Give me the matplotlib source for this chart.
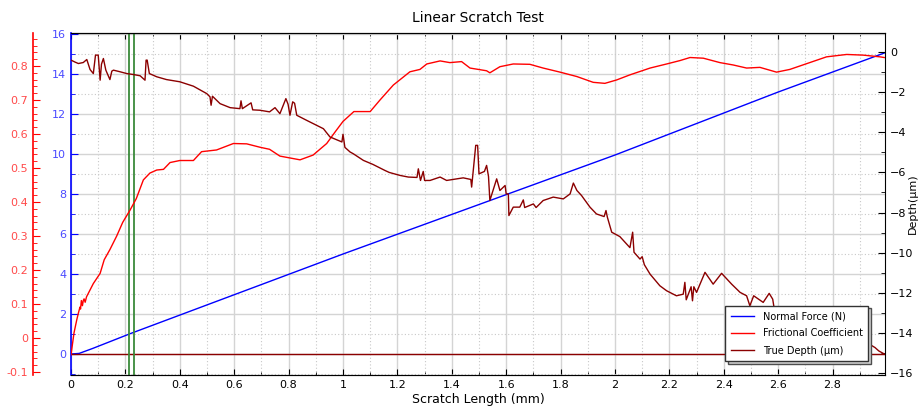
import matplotlib
matplotlib.use('Agg')
import matplotlib.pyplot as plt
from matplotlib.ticker import MultipleLocator, FuncFormatter

#  Data ########################################################################

# Normal force (N), left inner axis
force_x = [0.0, 0.03, 0.08, 0.22, 1.0, 2.0, 2.6, 3.0]
force_y = [0.0, 0.03, 0.28, 1.03, 5.0, 9.95, 13.1, 15.1]

# Frictional coefficient, left outer axis
fric_x = [0.000, 0.005, 0.011, 0.021, 0.027, 0.033, 0.035, 0.038, 0.042, 0.045,
          0.048, 0.052, 0.057, 0.082, 0.107, 0.122, 0.143, 0.168, 0.190, 0.217,
          0.240, 0.266, 0.290, 0.315, 0.340, 0.364, 0.400, 0.450, 0.480, 0.535,
          0.597, 0.646, 0.695, 0.730, 0.768, 0.842, 0.890, 0.940, 0.970, 1.000,
          1.040, 1.100, 1.136, 1.185, 1.246, 1.283, 1.308, 1.357, 1.393, 1.436,
          1.467, 1.528, 1.540, 1.577, 1.626, 1.687, 1.736, 1.798, 1.860, 1.920,
          1.963, 2.006, 2.055, 2.129, 2.190, 2.239, 2.276, 2.325, 2.386, 2.435,
          2.484, 2.533, 2.594, 2.643, 2.705, 2.778, 2.852, 2.913, 2.974, 2.990]
fric_y = [-0.050, -0.020, 0.015, 0.053, 0.073, 0.091, 0.085, 0.110, 0.095, 0.110,
          0.115, 0.105, 0.121, 0.160, 0.190, 0.230, 0.260, 0.300, 0.340, 0.376,
          0.410, 0.465, 0.485, 0.494, 0.496, 0.516, 0.522, 0.522, 0.548, 0.553,
          0.572, 0.571, 0.561, 0.555, 0.535, 0.524, 0.538, 0.572, 0.605, 0.637,
          0.666, 0.666, 0.700, 0.744, 0.783, 0.790, 0.806, 0.815, 0.810, 0.813,
          0.794, 0.786, 0.780, 0.798, 0.806, 0.805, 0.794, 0.782, 0.769, 0.752,
          0.749, 0.759, 0.774, 0.794, 0.806, 0.816, 0.825, 0.823, 0.810, 0.803,
          0.794, 0.796, 0.782, 0.790, 0.807, 0.827, 0.834, 0.832, 0.827, 0.825]

# True depth (um), right axis
depth_x = [0.000, 0.015, 0.027, 0.045, 0.058, 0.070, 0.082, 0.090, 0.100, 0.107,
           0.112, 0.119, 0.128, 0.143, 0.150, 0.156, 0.180, 0.205, 0.230, 0.254,
           0.272, 0.276, 0.280, 0.288, 0.315, 0.351, 0.400, 0.450, 0.499, 0.511,
           0.515, 0.520, 0.548, 0.585, 0.621, 0.625, 0.630, 0.662, 0.668, 0.695,
           0.730, 0.750, 0.768, 0.790, 0.798, 0.805, 0.815, 0.822, 0.830, 0.866,
           0.903, 0.928, 0.952, 0.996, 1.000, 1.007, 1.026, 1.038, 1.075, 1.110,
           1.154, 1.170, 1.210, 1.240, 1.272, 1.277, 1.285, 1.295, 1.300, 1.320,
           1.357, 1.381, 1.442, 1.470, 1.473, 1.488, 1.495, 1.500, 1.520, 1.528,
           1.535, 1.540, 1.565, 1.577, 1.596, 1.600, 1.608, 1.610, 1.626, 1.650,
           1.663, 1.668, 1.700, 1.710, 1.736, 1.773, 1.810, 1.835, 1.847, 1.860,
           1.877, 1.908, 1.932, 1.960, 1.967, 1.972, 1.988, 2.018, 2.055, 2.065,
           2.070, 2.092, 2.100, 2.108, 2.129, 2.165, 2.190, 2.226, 2.251, 2.257,
           2.262, 2.280, 2.285, 2.290, 2.300, 2.331, 2.361, 2.392, 2.429, 2.460,
           2.484, 2.496, 2.510, 2.545, 2.567, 2.580, 2.585, 2.650, 2.750, 2.880,
           2.940, 2.956, 2.970, 2.990]
depth_y = [-0.40, -0.50, -0.57, -0.52, -0.37, -0.87, -1.07, -0.15, -0.15, -1.40,
           -0.60, -0.32, -0.90, -1.37, -0.95, -0.90, -0.98, -1.07, -1.12, -1.18,
           -1.40, -0.40, -0.40, -1.07, -1.23, -1.37, -1.48, -1.70, -2.07, -2.23,
           -2.65, -2.20, -2.57, -2.77, -2.82, -2.43, -2.82, -2.53, -2.88, -2.90,
           -2.98, -2.77, -3.07, -2.32, -2.60, -3.15, -2.48, -2.55, -3.15, -3.40,
           -3.65, -3.82, -4.23, -4.48, -4.10, -4.75, -4.98, -5.07, -5.40, -5.60,
           -5.90, -6.00, -6.15, -6.23, -6.25, -5.82, -6.40, -5.95, -6.40, -6.40,
           -6.23, -6.40, -6.27, -6.35, -6.73, -4.65, -4.65, -6.07, -5.95, -5.65,
           -6.20, -7.40, -6.32, -6.90, -6.65, -7.07, -7.07, -8.15, -7.73, -7.73,
           -7.37, -7.75, -7.57, -7.75, -7.40, -7.23, -7.32, -7.07, -6.53, -6.90,
           -7.15, -7.73, -8.07, -8.20, -7.90, -8.23, -8.98, -9.20, -9.75, -8.98,
           -9.98, -10.32, -10.20, -10.60, -11.07, -11.65, -11.90, -12.15, -12.07, -11.48,
           -12.35, -11.70, -12.40, -11.70, -11.98, -10.98, -11.57, -11.03, -11.57, -11.98,
           -12.15, -12.65, -12.15, -12.48, -12.03, -12.32, -12.75, -13.20, -13.80, -14.40,
           -14.60, -14.73, -14.90, -15.05]

# Marker lines (green) and baseline
marker_x = [0.214, 0.232]
baseline = 0.0

#  Figure ######################################################################

fig = plt.figure(figsize=(9.2, 4.12), dpi=100)
ax = fig.add_axes([0.0772, 0.0898, 0.8848, 0.830])
axr = ax.twinx()   # frictional coefficient (outer left)
axd = ax.twinx()   # depth (right)

fs = 8

# main axis: normal force
ax.set_xlim(0, 2.993)
ax.set_ylim(-1.05, 16.05)
ax.xaxis.set_major_locator(MultipleLocator(0.2))
ax.xaxis.set_minor_locator(MultipleLocator(0.1))
ax.yaxis.set_major_locator(MultipleLocator(2))
ax.yaxis.set_minor_locator(MultipleLocator(1))
ax.xaxis.set_major_formatter(FuncFormatter(lambda v, p: '%g' % round(v, 2)))
ax.grid(which='major', color='#d4d4d4', linewidth=1.0)
ax.grid(which='minor', color='#c8c8c8', linewidth=0.8, linestyle=(0, (1, 2)))
ax.set_axisbelow(True)
ax.tick_params(axis='x', which='both', direction='in', top=True, labelsize=fs,
               colors='black')
ax.tick_params(axis='x', which='major', length=4)
ax.tick_params(axis='x', which='minor', length=2)
ax.tick_params(axis='y', which='both', direction='in', colors='#0000ff',
               labelcolor='#4a4aff', labelsize=fs)
ax.tick_params(axis='y', which='major', length=5)
ax.tick_params(axis='y', which='minor', length=3)
ax.spines['left'].set_color('#0000ff')
ax.spines['left'].set_linewidth(1.2)
ax.spines['bottom'].set_color('#555555')
ax.spines['right'].set_visible(False)
ax.set_xlabel('Scratch Length (mm)', fontsize=9, labelpad=2)
ax.set_title('Linear Scratch Test', fontsize=10, pad=8)

l1, = ax.plot(force_x, force_y, color='#0000ff', linewidth=1.0,
              label='Normal Force (N)')
ax.axhline(baseline, color='#8b0000', linewidth=1.0)
for mx in marker_x:
    ax.axvline(mx, color='#3a8a3a', linewidth=1.3)

# outer left axis: frictional coefficient
axr.set_ylim(-0.109, 0.897)
axr.spines['left'].set_position(('axes', -0.0467))
axr.spines['left'].set_visible(True)
axr.spines['left'].set_color('#ff0000')
axr.spines['left'].set_linewidth(1.2)
axr.spines['right'].set_visible(False)
axr.spines['top'].set_visible(False)
axr.spines['bottom'].set_visible(False)
axr.yaxis.set_ticks_position('left')
axr.yaxis.set_label_position('left')
axr.yaxis.set_major_locator(MultipleLocator(0.1))
axr.yaxis.set_minor_locator(MultipleLocator(0.02))
axr.yaxis.set_major_formatter(FuncFormatter(lambda v, p: '%g' % round(v, 2)))
axr.tick_params(axis='y', which='both', direction='in', colors='#ff0000',
                labelcolor='#ff4a4a', labelsize=fs)
axr.tick_params(axis='y', which='major', length=5)
axr.tick_params(axis='y', which='minor', length=3)
l2, = axr.plot(fric_x, fric_y, color='#ff0000', linewidth=1.0,
               label='Frictional Coefficient')

# right axis: depth
axd.set_ylim(-16.1, 0.95)
axd.yaxis.set_major_locator(MultipleLocator(2))
axd.yaxis.set_minor_locator(MultipleLocator(1))
axd.tick_params(axis='y', which='both', direction='in', colors='black',
                labelsize=fs)
axd.tick_params(axis='y', which='major', length=5)
axd.tick_params(axis='y', which='minor', length=3)
axd.spines['left'].set_visible(False)
axd.set_ylabel('Depth(\u00b5m)', fontsize=8)
axd.yaxis.set_label_coords(1.0275, 0.5)
l3, = axd.plot(depth_x, depth_y, color='#8b0000', linewidth=1.0,
               label='True Depth (\u00b5m)')

leg = axd.legend(handles=[l1, l2, l3], loc='lower right',
                 bbox_to_anchor=(0.979, 0.041), borderaxespad=0,
                 fontsize=7, fancybox=False,
                 shadow={'facecolor': '#d0d0d0', 'alpha': 1}, framealpha=1,
                 handlelength=2.4, handletextpad=0.9, borderpad=0.55,
                 labelspacing=0.75)
leg.get_frame().set_edgecolor('#333333')
leg.get_frame().set_linewidth(1.0)

fig.savefig('out.png', dpi=100)
